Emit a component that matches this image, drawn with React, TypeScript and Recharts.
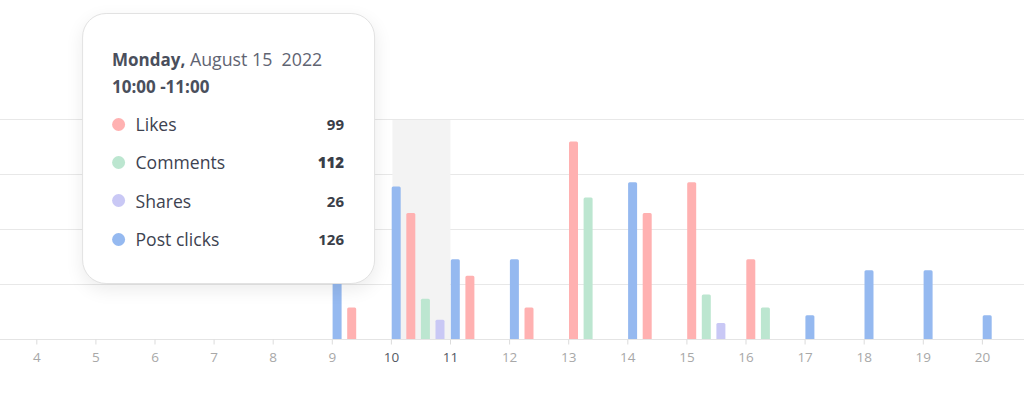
import React from 'react';
import { BarChart, Bar, XAxis, YAxis, CartesianGrid, Tooltip, Cell } from 'recharts';

// ---- data ----
const hours = [3, 4, 5, 6, 7, 8, 9, 10, 11, 12, 13, 14, 15, 16, 17, 18, 19, 20];
const postClicks = [0, 0, 0, 0, 0, 0, 80, 139, 73, 73, 0, 143, 0, 0, 22, 63, 63, 22];
const likes = [0, 0, 0, 0, 0, 0, 29, 115, 58, 29, 180, 115, 143, 73, 0, 0, 0, 0];
const comments = [0, 0, 0, 0, 0, 0, 0, 37, 0, 0, 129, 0, 41, 29, 0, 0, 0, 0];
const shares = [0, 0, 0, 0, 0, 0, 0, 18, 0, 0, 0, 0, 15, 0, 0, 0, 0, 0];
const yTicks = [0, 50, 100, 150, 200];

const seriesKeys = ['likes', 'comments', 'shares', 'postClicks'];
const seriesNames = ['Likes', 'Comments', 'Shares', 'Post clicks'];
const seriesColors = ['#ffb1b1', '#bce6d0', '#c9c8f5', '#95b9f0'];
const slotOrder = ['postClicks', 'likes', 'comments', 'shares'];

const tooltipDay = 'Monday,';
const tooltipDate = 'August 15  2022';
const tooltipTime = '10:00 -11:00';
const tooltipValues = [99, 112, 26, 126];
const activeHourIndex = 7; // hour 10
const highlightedLabels = ['10', '11'];

// ---- derived table (packed slots) ----
const metricValues: Record<string, number[]> = { postClicks, likes, comments, shares };
const colorOf: Record<string, string> = {};
seriesKeys.forEach((k, i) => (colorOf[k] = seriesColors[i]));

const rows = hours.map((h, i) => {
  const present = slotOrder.filter((k) => metricValues[k][i] > 0);
  const row: any = { hour: String(h) };
  for (let s = 0; s < 4; s++) {
    const k = present[s];
    row['s' + s] = k ? metricValues[k][i] : null;
    row['k' + s] = k ?? null;
  }
  return row;
});

// ---- layout ----
const BAND_W = 59.1;
const PLOT_W = BAND_W * hours.length;
const CHART_LEFT = -25.1;
const TICK_SHIFT = 2.7;
const FONT = '"Open Sans", "Noto Sans", sans-serif';

const HourTick = (props: any) => {
  const { x, y, payload } = props;
  const bx = x - BAND_W / 2 + TICK_SHIFT;
  if (bx + CHART_LEFT < 6) return <g />;
  const active = highlightedLabels.includes(String(payload.value));
  return (
    <g>
      <line x1={bx} x2={bx} y1={y} y2={y + 5} stroke="#dcdcdc" strokeWidth={1} />
      <text
        x={bx}
        y={y + 22.5}
        textAnchor="middle"
        fill={active ? '#555a64' : '#a8a8a8'}
        fontSize={13.5}
        fontFamily={FONT}
      >
        {payload.value}
      </text>
    </g>
  );
};

const CursorRect = (props: any) => {
  const { x, y, width, height } = props;
  if (x == null) return null;
  return <rect x={x + TICK_SHIFT + 1} y={y} width={width - 1.1} height={height} fill="#f3f3f3" />;
};

const TooltipBox = () => (
  <div
    style={{
      width: 293,
      height: 271,
      boxSizing: 'border-box',
      background: '#ffffff',
      border: '1px solid #e2e2e2',
      borderRadius: 24,
      boxShadow: '0 6px 18px rgba(0,0,0,0.08)',
      padding: '31px 30px 0 29px',
      fontFamily: FONT,
      color: '#3d4250',
    }}
  >
    <div style={{ height: 28, lineHeight: '28px', fontSize: 17, whiteSpace: 'pre' }}>
      <span style={{ fontWeight: 700, color: '#4a4f5c' }}>{tooltipDay}</span>
      <span style={{ color: '#5f6472', fontSize: 17.8 }}>{' ' + tooltipDate}</span>
    </div>
    <div style={{ height: 28, lineHeight: '28px', fontSize: 17, fontWeight: 700, color: '#4a4f5c' }}>
      {tooltipTime}
    </div>
    <div style={{ marginTop: 4 }}>
      {seriesNames.map((n, i) => (
        <div key={n} style={{ display: 'flex', alignItems: 'center', height: 38.33 }}>
          <span
            style={{
              width: 13,
              height: 13,
              borderRadius: '50%',
              background: seriesColors[i],
              flex: '0 0 auto',
            }}
          />
          <span style={{ marginLeft: 10.5, fontSize: 17.6, flex: 1 }}>{n}</span>
          <span style={{ fontWeight: i === 1 ? 800 : 700, fontSize: 15, color: '#3a3e48' }}>
            {tooltipValues[i]}
          </span>
        </div>
      ))}
    </div>
  </div>
);

export default function App() {
  return (
    <div
      style={{
        position: 'fixed',
        left: 0,
        top: 0,
        width: 1024,
        height: 395,
        overflow: 'hidden',
        background: '#ffffff',
      }}
    >
      <div style={{ position: 'absolute', left: CHART_LEFT, top: 0 }}>
        <BarChart
          width={PLOT_W}
          height={395}
          data={rows}
          margin={{ top: 119.5, right: 0, bottom: 25.5, left: 0 }}
          barGap={5.6}
          barCategoryGap={0}
        >
          <CartesianGrid vertical={false} stroke="#e8e8e8" />
          <YAxis hide domain={[0, 200]} ticks={yTicks} />
          <XAxis
            dataKey="hour"
            height={30}
            axisLine={{ stroke: '#e4e4e4' }}
            tickLine={false}
            tickSize={0}
            tickMargin={0}
            interval={0}
            tick={<HourTick />}
          />
          <Tooltip
            defaultIndex={activeHourIndex}
            active={true}
            position={{ x: 82 - CHART_LEFT, y: 13 }}
            cursor={<CursorRect />}
            content={<TooltipBox />}
            isAnimationActive={false}
            wrapperStyle={{ outline: 'none' }}
          />
          {[0, 1, 2, 3].map((s) => (
            <Bar
              key={s}
              dataKey={'s' + s}
              barSize={9}
              radius={[1.5, 1.5, 0, 0]}
              isAnimationActive={false}
            >
              {rows.map((r, i) => (
                <Cell key={i} fill={r['k' + s] ? colorOf[r['k' + s]] : 'transparent'} />
              ))}
            </Bar>
          ))}
        </BarChart>
      </div>
    </div>
  );
}
